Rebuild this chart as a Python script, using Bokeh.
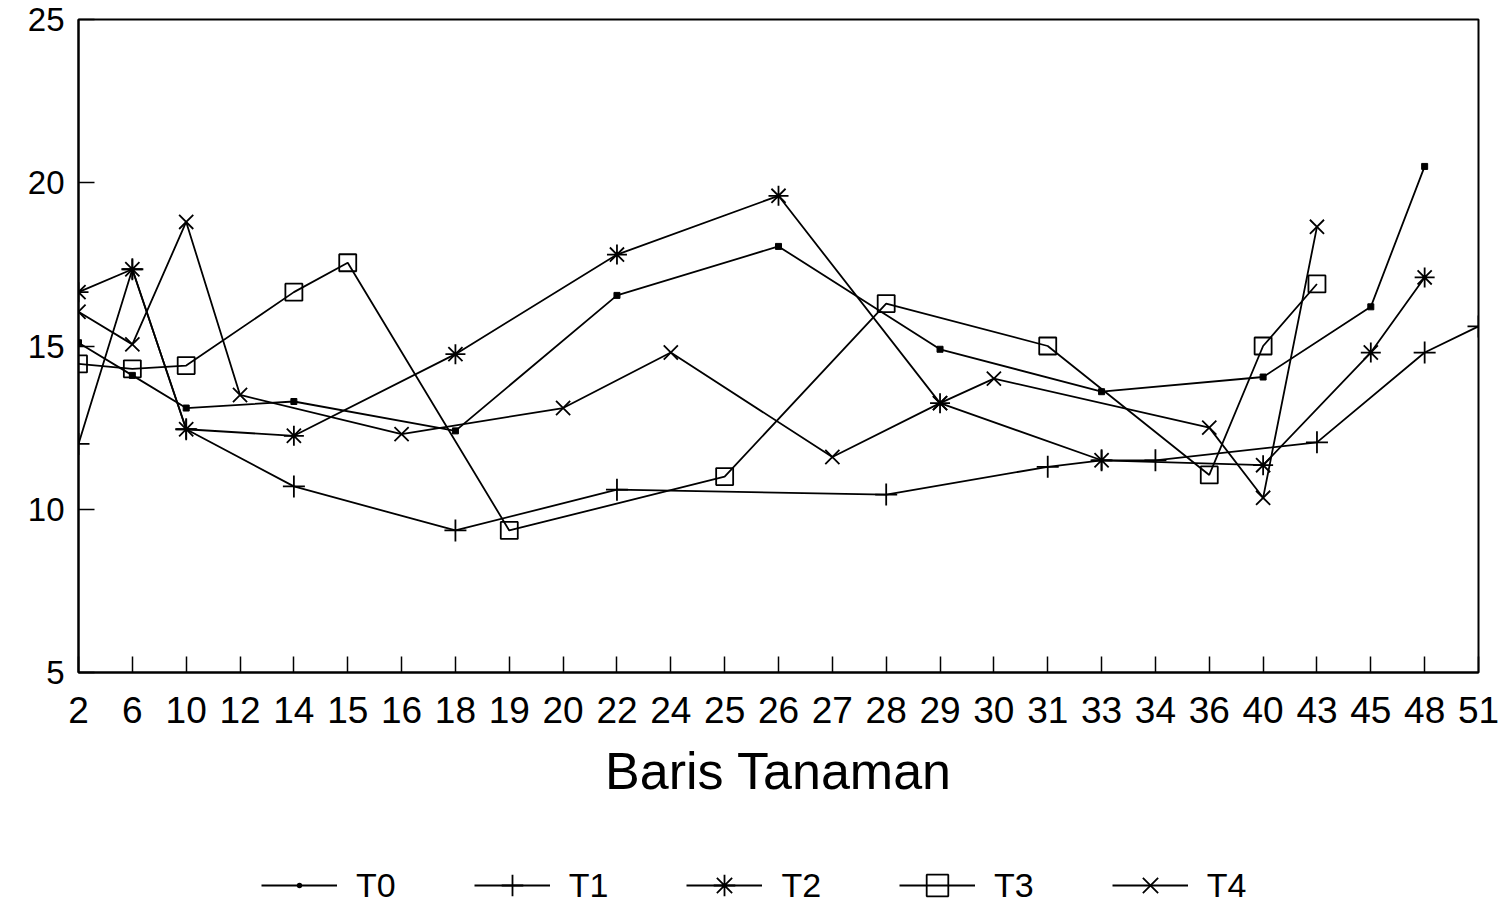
from bokeh.plotting import figure
from bokeh.layouts import column
from bokeh.models import ColumnDataSource, FixedTicker, Legend, LegendItem, Range1d
from bokeh.embed import file_html
from bokeh.resources import INLINE

N = None
categories = ["2", "6", "10", "12", "14", "15", "16", "18", "19", "20", "22", "24", "25", "26",
              "27", "28", "29", "30", "31", "33", "34", "36", "40", "43", "45", "48", "51"]

#      2     6     10    12    14    15    16    18    19    20    22     24    25    26
#      27    28    29    30    31    33    34    36    40    43    45    48    51
T0 = [15.1, 14.1, 13.1, N,    13.3, N,    N,    12.4, N,    N,    16.55, N,    N,    18.05,
      N,    N,    14.9, N,    N,    13.6, N,    N,    14.05, N,   16.2, 20.5, N]
T1 = [12.0, 17.35, 12.45, N,  10.7, N,    N,    9.35, N,    N,    10.6,  N,    N,    N,
      N,    10.45, N,   N,    11.3, 11.5, 11.5, N,   N,    12.05, N,   14.8, 15.6]
T2 = [16.65, 17.35, 12.45, N, 12.25, N,   N,    14.75, N,   N,    17.8,  N,    N,    19.6,
      N,    N,    13.25, N,   N,    11.5, N,    N,    11.35, N,   14.8, 17.1, N]
T3 = [14.45, 14.3, 14.4, N,   16.65, 17.55, N,  N,    9.35, N,    N,     N,    11.0, N,
      N,    16.3, N,    N,    15.0, N,    N,    11.05, 15.0, 16.9, N,  N,    N]
T4 = [16.05, 15.05, 18.8, 13.5, N,   N,    12.3, N,    N,    13.1, N,     14.8, N,    N,
      11.6, N,    13.25, 14.0, N,   N,    N,    12.5, 10.35, 18.65, N, N,    N]

series_names = ["T0", "T1", "T2", "T3", "T4"]
series_values = [T0, T1, T2, T3, T4]
series_markers = ["square", "cross", "asterisk", "square", "x"]
series_sizes = [6, 22, 20, 17, 20]
y_ticks = [5, 10, 15, 20, 25]

FONT = "Liberation Sans"
LW = 1.8

# ---------------- main chart ----------------
p = figure(width=1511, height=820, output_backend="svg", toolbar_location=None,
           x_range=Range1d(0, len(categories) - 1), y_range=Range1d(5, 25),
           min_border_left=78, min_border_right=33, min_border_top=19, min_border_bottom=148,
           background_fill_color="white", border_fill_color="white")

p.xgrid.visible = False
p.ygrid.visible = False
p.outline_line_color = "black"
p.outline_line_width = 2

xa = p.xaxis[0]
xa.ticker = FixedTicker(ticks=list(range(len(categories))))
xa.major_label_overrides = {i: c for i, c in enumerate(categories)}
xa.major_tick_in = 16
xa.major_tick_out = 0
xa.minor_tick_line_color = None
xa.axis_line_width = 2
xa.major_tick_line_width = 1.5
xa.major_label_text_font = FONT
xa.major_label_text_font_size = "37px"
xa.major_label_text_color = "black"
xa.major_label_standoff = 24
xa.axis_label = "Baris Tanaman"
xa.axis_label_text_font = FONT
xa.axis_label_text_font_size = "52px"
xa.axis_label_text_font_style = "normal"
xa.axis_label_text_color = "black"
xa.axis_label_standoff = 16

ya = p.yaxis[0]
ya.ticker = FixedTicker(ticks=y_ticks)
ya.major_tick_in = 16
ya.major_tick_out = 0
ya.minor_tick_line_color = None
ya.axis_line_width = 2
ya.major_tick_line_width = 1.5
ya.major_label_text_font = FONT
ya.major_label_text_font_size = "33px"
ya.major_label_text_color = "black"
ya.major_label_standoff = 14

# ---------------- legend strip ----------------
# its ranges are chosen so that the series themselves fall outside and stay hidden;
# the renderers are only there to give the legend its samples
lf = figure(width=1511, height=89, output_backend="svg", toolbar_location=None,
            x_axis_type=None, y_axis_type=None,
            min_border_left=0, min_border_right=0, min_border_top=0, min_border_bottom=0,
            x_range=Range1d(100, 101), y_range=Range1d(100, 101),
            background_fill_color="white", border_fill_color="white")
lf.outline_line_color = None

items = []
for name, vals, mk, sz in zip(series_names, series_values, series_markers, series_sizes):
    xs = [i for i, v in enumerate(vals) if v is not None]
    ys = [v for v in vals if v is not None]
    src = ColumnDataSource(dict(x=xs, y=ys))
    p.line("x", "y", source=src, line_color="black", line_width=LW)
    if name == "T0":
        p.scatter("x", "y", source=src, marker=mk, size=sz, line_color="black",
                  fill_color="black", line_width=1)
    else:
        p.scatter("x", "y", source=src, marker=mk, size=sz, line_color="black",
                  fill_color=None, line_width=LW)

    lr = lf.line("x", "y", source=src, line_color="black", line_width=LW)
    if name == "T0":
        mr = lf.scatter("x", "y", source=src, marker="dot", size=18, line_color="black",
                        line_width=1)
    else:
        mr = lf.scatter("x", "y", source=src, marker=mk, size=sz, line_color="black",
                        fill_color=None, line_width=LW)
    items.append(LegendItem(label=name, renderers=[lr, mr]))

legend = Legend(items=items, orientation="horizontal", location=(183, -3),
                glyph_width=76, glyph_height=54, label_standoff=19, spacing=78,
                label_text_font=FONT, label_text_font_size="34px", label_text_color="black",
                border_line_color=None, background_fill_alpha=0, margin=0, padding=0)
lf.add_layout(legend, "center")

page = column(p, lf, spacing=0)
open("out.html", "w").write(file_html(page, INLINE))
